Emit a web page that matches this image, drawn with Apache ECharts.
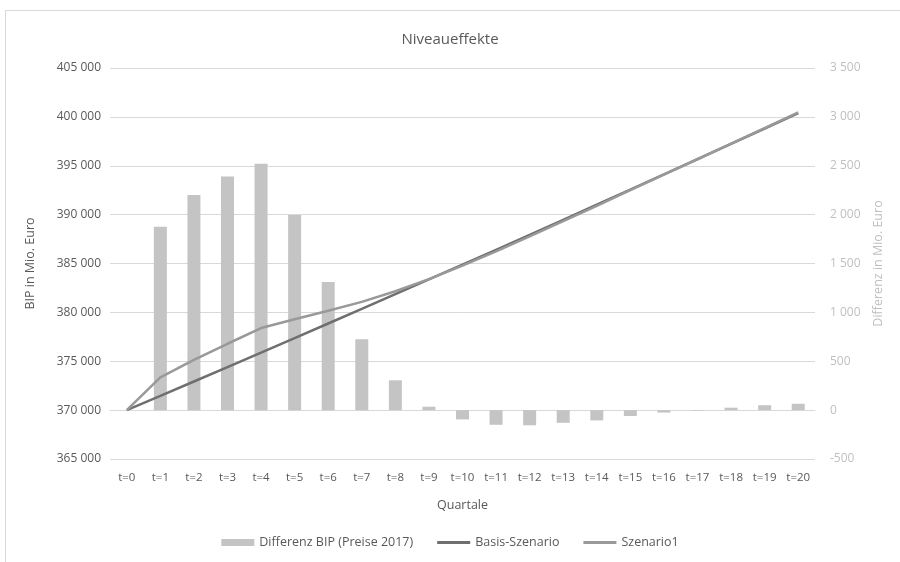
<!DOCTYPE html>
<html>
<head>
<meta charset="utf-8">
<script src="https://cdn.jsdelivr.net/npm/echarts@6/dist/echarts.min.js"></script>
<style>
  html, body { margin: 0; padding: 0; background: #ffffff; }
  #chart { width: 900px; height: 562px; }
</style>
</head>
<body>
<div id="chart"></div>
<script>
// Quarters after the shock
const quarters = ['t=0','t=1','t=2','t=3','t=4','t=5','t=6','t=7','t=8','t=9','t=10',
                  't=11','t=12','t=13','t=14','t=15','t=16','t=17','t=18','t=19','t=20'];

// GDP difference (prices 2017), Mio. Euro – right axis
const diffBip = [0, 1875, 2200, 2390, 2520, 1995, 1310, 725, 305, 35, -95,
                 -150, -155, -130, -105, -60, -25, -5, 25, 50, 65];

// GDP level, baseline scenario, Mio. Euro – left axis
const basisSzenario = [370000, 371460, 372930, 374400, 375880, 377370, 378860, 380350,
                       381860, 383370, 384880, 386400, 387930, 389470, 391010, 392560,
                       394110, 395670, 397240, 398810, 400390];

// GDP level, scenario 1, Mio. Euro – left axis
const szenario1 = [370000, 373340, 375130, 376790, 378400, 379300, 380170, 381075,
                   382165, 383405, 384785, 386250, 387775, 389340, 390905, 392500,
                   394085, 395665, 397265, 398860, 400455];

const FONT = '"Open Sans", "Noto Sans", sans-serif';
const fmt = v => {
  const s = String(Math.abs(v)).replace(/\B(?=(\d{3})+(?!\d))/g, ' ');
  return (v < 0 ? '-' : '') + s;
};

const chart = echarts.init(document.getElementById('chart'), null, { renderer: 'canvas' });

chart.setOption({
  animation: false,
  backgroundColor: '#ffffff',
  textStyle: { fontFamily: FONT },
  graphic: [{
    type: 'rect',
    left: 3, top: 8,
    shape: { width: 920, height: 600 },
    style: { fill: 'none', stroke: '#d9d9d9', lineWidth: 1 },
    silent: true, z: -10
  }],
  title: {
    text: 'Niveaueffekte',
    left: 'center',
    top: 27,
    textStyle: { fontFamily: FONT, fontSize: 15, fontWeight: 'normal', color: '#595959' }
  },
  legend: {
    bottom: 8,
    left: 'center',
    itemGap: 24,
    itemWidth: 33,
    itemHeight: 7,
    textStyle: { fontFamily: FONT, fontSize: 12.5, color: '#595959' },
    data: [
      { name: 'Differenz BIP (Preise 2017)', icon: 'rect' },
      { name: 'Basis-Szenario', icon: 'path://M0,0H33V3H0Z' },
      { name: 'Szenario1', icon: 'path://M0,0H33V3H0Z' }
    ]
  },
  grid: { left: 110, right: 85, top: 68, bottom: 103, containLabel: false },
  xAxis: {
    type: 'category',
    data: quarters,
    name: 'Quartale',
    nameLocation: 'middle',
    nameGap: 40,
    nameTextStyle: { fontFamily: FONT, fontSize: 12.5, color: '#595959' },
    axisLine: { show: true, lineStyle: { color: '#d9d9d9', width: 1 } },
    axisTick: { show: false },
    axisLabel: { color: '#595959', fontSize: 11.5, margin: 13, interval: 0, fontFamily: FONT }
  },
  yAxis: [{
    type: 'value',
    min: 365000, max: 405000, interval: 5000,
    name: 'BIP in Mio. Euro',
    nameLocation: 'middle',
    nameRotate: 90,
    nameGap: 73,
    nameTextStyle: { fontFamily: FONT, fontSize: 12.5, color: '#595959' },
    axisLine: { show: false },
    axisTick: { show: false },
    axisLabel: { color: '#595959', fontSize: 12, margin: 9, formatter: fmt, fontFamily: FONT },
    splitLine: { show: true, lineStyle: { color: '#d9d9d9', width: 1 } }
  }, {
    type: 'value',
    position: 'right',
    min: -500, max: 3500, interval: 500,
    name: 'Differenz in Mio. Euro',
    nameLocation: 'middle',
    nameRotate: 90,
    nameGap: 57,
    nameTextStyle: { fontFamily: FONT, fontSize: 12.5, color: '#bfbfbf' },
    axisLine: { show: false },
    axisTick: { show: false },
    axisLabel: { color: '#bfbfbf', fontSize: 12, margin: 15, formatter: fmt, fontFamily: FONT },
    splitLine: { show: false }
  }],
  series: [{
    name: 'Differenz BIP (Preise 2017)',
    type: 'bar',
    yAxisIndex: 1,
    data: diffBip,
    barWidth: 13,
    itemStyle: { color: '#c4c4c4' }
  }, {
    name: 'Basis-Szenario',
    type: 'line',
    yAxisIndex: 0,
    data: basisSzenario,
    symbol: 'none',
    lineStyle: { color: '#6f6f6f', width: 2.5 },
    itemStyle: { color: '#6f6f6f' }
  }, {
    name: 'Szenario1',
    type: 'line',
    yAxisIndex: 0,
    data: szenario1,
    symbol: 'none',
    lineStyle: { color: '#999999', width: 2.5 },
    itemStyle: { color: '#999999' }
  }]
});
</script>
</body>
</html>
